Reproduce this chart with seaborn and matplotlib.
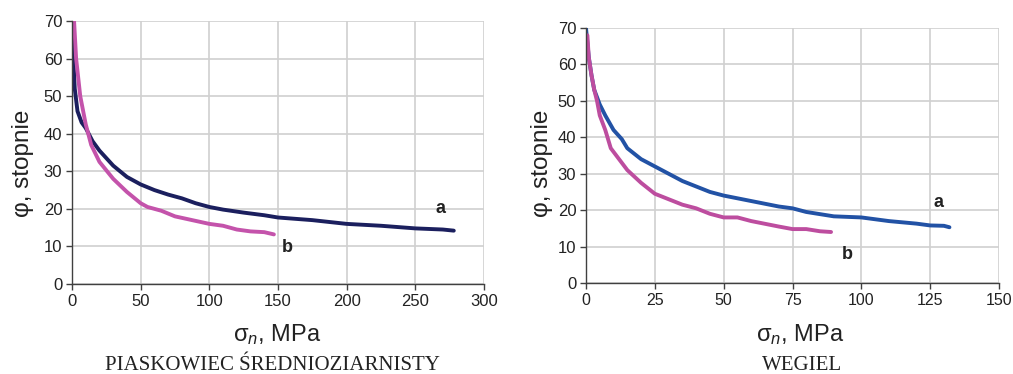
import matplotlib
matplotlib.use("Agg")
import matplotlib.pyplot as plt
import seaborn as sns
import pandas as pd

# ---- data: left panel (PIASKOWIEC) ----
left_a_x = [0.3, 1, 2, 4, 7, 10, 15, 20, 25, 30, 40, 50, 60, 70, 80, 90, 100, 110, 125, 140, 150, 175, 200, 225, 250, 270, 278]
left_a_y = [70, 60, 52, 46, 43, 41.5, 38, 35.5, 33.5, 31.5, 28.5, 26.5, 25, 23.8, 22.8, 21.5, 20.5, 19.8, 19, 18.3, 17.7, 17, 16, 15.5, 14.8, 14.5, 14.2]
left_b_x = [1.5, 3, 6, 10, 14, 20, 30, 40, 50, 55, 65, 75, 90, 100, 110, 120, 130, 140, 147]
left_b_y = [70, 60, 50, 42.5, 37, 32.5, 28, 24.5, 21.5, 20.5, 19.5, 18, 16.8, 16, 15.5, 14.5, 14, 13.8, 13.2]

# ---- data: right panel (WEGIEL) ----
right_a_x = [0, 0.5, 1, 2, 3, 5, 7, 10, 13, 15, 20, 25, 30, 35, 40, 45, 50, 60, 70, 75, 80, 90, 100, 110, 120, 125, 130, 132]
right_a_y = [70, 66, 62, 57, 53, 49, 46, 42, 39.5, 37, 34, 32, 30, 28, 26.5, 25, 24, 22.5, 21, 20.5, 19.5, 18.3, 18, 17, 16.3, 15.8, 15.7, 15.3]
right_b_x = [0.5, 1, 2, 3, 4, 5, 7, 9, 12, 15, 20, 25, 30, 35, 40, 45, 50, 55, 60, 70, 75, 80, 85, 89]
right_b_y = [68, 62, 57, 53, 50, 46, 42, 37, 34, 31, 27.5, 24.5, 23, 21.5, 20.5, 19, 18, 18, 17, 15.5, 14.8, 14.8, 14.2, 14]

y_ticks = [0, 10, 20, 30, 40, 50, 60, 70]
left_x_ticks = [0, 50, 100, 150, 200, 250, 300]
right_x_ticks = [0, 25, 50, 75, 100, 125, 150]
curve_labels = ["a", "b"]
titles = ["PIASKOWIEC ŚREDNIOZIARNISTY", "WEGIEL"]

sns.set_theme(style="white")
plt.rcParams["font.family"] = ["Liberation Sans", "DejaVu Sans"]
plt.rcParams["mathtext.fontset"] = "custom"
plt.rcParams["mathtext.rm"] = "Liberation Sans"
plt.rcParams["mathtext.it"] = "Liberation Sans:italic"

fig = plt.figure(figsize=(10.13, 3.74), dpi=100)
ax1 = fig.add_axes([72/1013, 90/374, 412/1013, 263/374])
ax2 = fig.add_axes([586/1013, 91/374, 413/1013, 255/374])

panels = [
    (ax1, left_a_x, left_a_y, left_b_x, left_b_y, left_x_ticks, "#1b1f5e", "#c453ab",
     (268, 20), (157, 9.8), (-0.119, 0.46), (0.498, -0.194)),
    (ax2, right_a_x, right_a_y, right_b_x, right_b_y, right_x_ticks, "#2252a5", "#bd4d9f",
     (128, 22.2), (95, 7.7), (-0.106, 0.47), (0.518, -0.204)),
]

for ax, ax_x, ax_y, bx, by, xt, ca, cb, pa, pb, ylc, xlc in panels:
    dfa = pd.DataFrame({"x": ax_x, "y": ax_y})
    dfb = pd.DataFrame({"x": bx, "y": by})
    sns.lineplot(data=dfa, x="x", y="y", ax=ax, color=ca, lw=2.8, sort=False)
    sns.lineplot(data=dfb, x="x", y="y", ax=ax, color=cb, lw=2.8, sort=False)
    ax.set_xlim(xt[0], xt[-1])
    ax.set_ylim(0, 70)
    ax.set_xticks(xt)
    ax.set_yticks(y_ticks)
    ax.grid(True, color="#d0d0d0", lw=1.2)
    ax.set_axisbelow(True)
    for s in ["top", "right"]:
        ax.spines[s].set_visible(False)
    for s in ["left", "bottom"]:
        ax.spines[s].set_color("#404040")
        ax.spines[s].set_linewidth(1.0)
    ax.tick_params(axis="both", direction="out", length=4, width=1, color="#404040",
                   labelsize=12, labelcolor="#222222", bottom=True, left=True, pad=3)
    ax.set_xlabel("σ$_{n}$, MPa", fontsize=17, color="#222222", va="center")
    ax.set_ylabel("φ, stopnie", fontsize=17.5, color="#222222", va="center")
    ax.xaxis.set_label_coords(*xlc)
    ax.yaxis.set_label_coords(*ylc)
    ax.text(pa[0], pa[1], curve_labels[0], fontsize=13, fontweight="bold", color="#222222",
            ha="center", va="center")
    ax.text(pb[0], pb[1], curve_labels[1], fontsize=13, fontweight="bold", color="#222222",
            ha="center", va="center")

# keep the last tick label of the right panel inside the figure
ax2.get_xticklabels()[-1].set_horizontalalignment("center")
ax2.tick_params(axis="x", labelsize=11.5)

fig.text(272/1013, 1 - 366/374, titles[0], fontsize=15, family="Liberation Serif",
         ha="center", va="center", color="#222222")
fig.text(802/1013, 1 - 366/374, titles[1], fontsize=15, family="Liberation Serif",
         ha="center", va="center", color="#222222")

fig.savefig("out.png", dpi=100)
